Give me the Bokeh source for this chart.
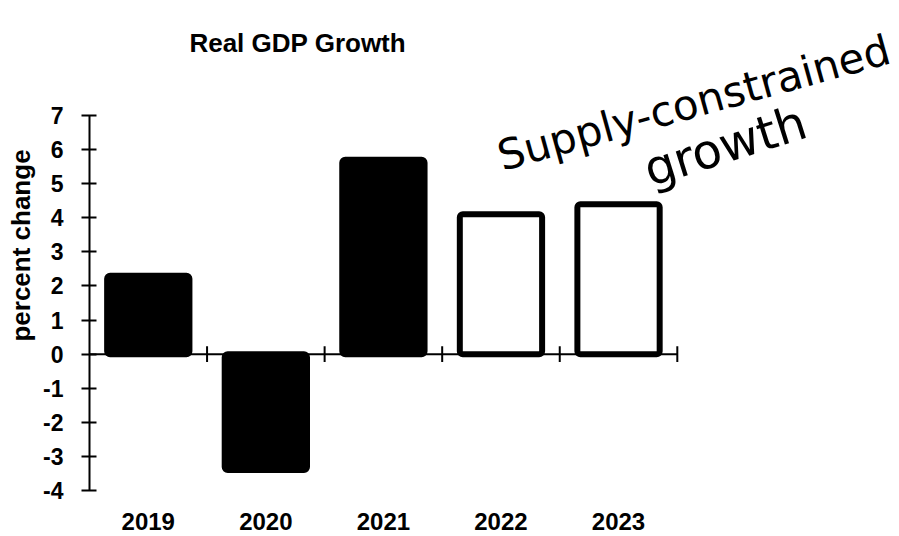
import math
from bokeh.plotting import figure
from bokeh.models import Range1d, Label, FixedTicker, ColumnDataSource
from bokeh.embed import file_html
from bokeh.resources import INLINE

# ---- data ----
years = ["2019", "2020", "2021", "2022", "2023"]
growth = [2.3, -3.4, 5.7, 4.1, 4.4]
is_actual = [True, True, True, False, False]
yticks = [-4, -3, -2, -1, 0, 1, 2, 3, 4, 5, 6, 7]
title_text = "Real GDP Growth"
y_label = "percent change"
note_line1 = "Supply-constrained"
note_line2 = "growth"

FONT = "Liberation Sans"

n = len(years)
xpos = [i + 0.5 for i in range(n)]  # category centres on a numeric scale

src = ColumnDataSource(dict(
    x=xpos,
    growth=growth,
    fill=["black" if a else "white" for a in is_actual],
))

# frame extends past the axes so the handwritten note is not clipped
p = figure(
    x_range=Range1d(0, 6.89),
    y_range=Range1d(yticks[0], 10.373),
    width=899, height=536,
    output_backend="svg", toolbar_location=None,
    min_border_left=89, min_border_right=0,
    min_border_top=0, min_border_bottom=46,
)
p.outline_line_color = None
p.background_fill_color = "white"
p.border_fill_color = "white"
p.grid.visible = False

# zero line across the categories
p.segment(x0=[0], x1=[n], y0=[0], y1=[0], line_color="black", line_width=2)

# separator ticks on the zero line at category boundaries
bounds = list(range(1, n + 1))
p.segment(x0=bounds, x1=bounds, y0=[-0.23] * n, y1=[0.23] * n,
          line_color="black", line_width=2)

# bars
p.vbar(x="x", top="growth", width=0.7, source=src,
       fill_color="fill", line_color="black", line_width=6,
       line_join="round", border_radius=3)

# y axis
ya = p.yaxis[0]
ya.bounds = (yticks[0], yticks[-1])
ya.ticker = FixedTicker(ticks=yticks)
ya.major_label_overrides = {t: str(t) for t in yticks}
ya.axis_line_width = 2
ya.major_tick_line_width = 2
ya.major_tick_in = 7
ya.major_tick_out = 8
ya.minor_tick_line_color = None
ya.major_label_standoff = 18
ya.major_label_text_font = FONT
ya.major_label_text_font_size = "23px"
ya.major_label_text_font_style = "bold"
ya.major_label_text_color = "black"
ya.axis_label = y_label
ya.axis_label_text_font = FONT
ya.axis_label_text_font_size = "26px"
ya.axis_label_text_font_style = "bold"
ya.axis_label_text_color = "black"
ya.axis_label_standoff = 4

# x axis: only category labels at the bottom
xa = p.xaxis[0]
xa.ticker = FixedTicker(ticks=xpos)
xa.major_label_overrides = {x: y for x, y in zip(xpos, years)}
xa.axis_line_color = None
xa.major_tick_line_color = None
xa.minor_tick_line_color = None
xa.major_tick_out = 0
xa.major_tick_in = 0
xa.major_label_standoff = 22
xa.major_label_text_font = FONT
xa.major_label_text_font_size = "24px"
xa.major_label_text_font_style = "bold"
xa.major_label_text_color = "black"

# title
p.add_layout(Label(x=0.85, y=8.70, text=title_text,
                   text_font=FONT, text_font_size="26px",
                   text_font_style="bold", text_color="black"))

# handwritten-style annotation
p.add_layout(Label(x=3.536, y=5.09, text=note_line1, angle=math.radians(15.5),
                   text_font="DejaVu Sans", text_font_size="42px",
                   text_color="black"))
p.add_layout(Label(x=4.80, y=4.60, text=note_line2, angle=math.radians(17.5),
                   text_font="DejaVu Sans", text_font_size="48px",
                   text_color="black"))

open("out.html", "w").write(file_html(p, INLINE))
